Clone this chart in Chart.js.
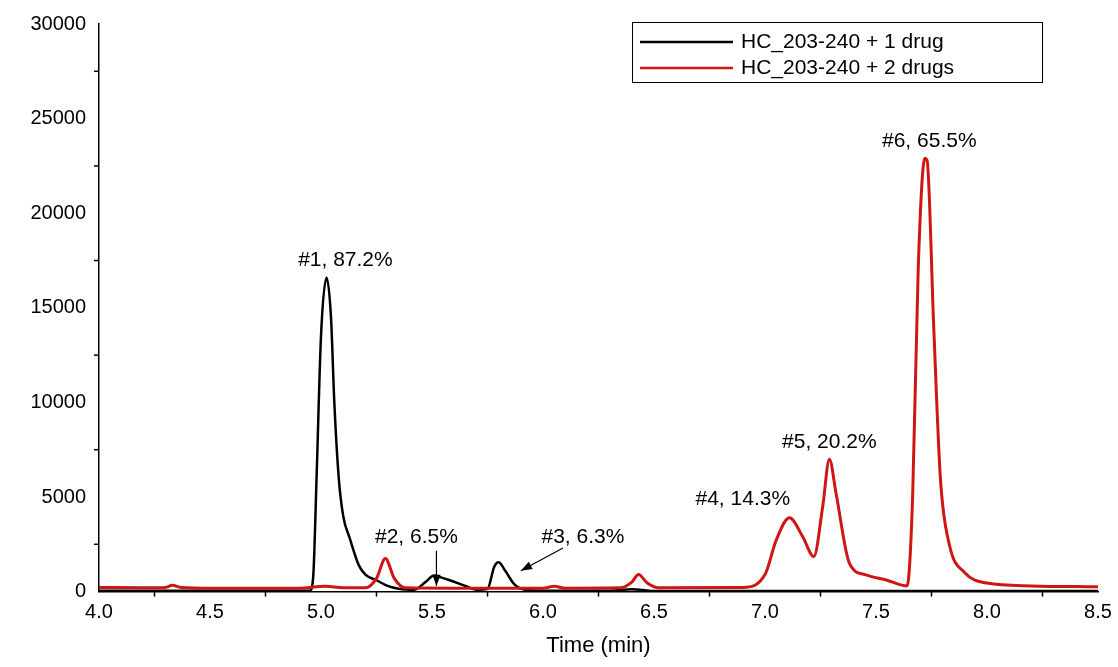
<!DOCTYPE html>
<html><head><meta charset="utf-8">
<script src="https://cdn.jsdelivr.net/npm/chart.js@4/dist/chart.umd.min.js"></script>
<style>html,body{margin:0;background:#fff}#w{width:1118px;height:667px}</style>
</head><body><div id="w"><canvas id="c"></canvas></div>
<script>
const seriesNames = ["HC_203-240 + 1 drug", "HC_203-240 + 2 drugs"];
const blackX = [4.0,4.95,4.965,4.98,5.0,5.025,5.045,5.06,5.08,5.10,5.13,5.17,5.2,5.25,5.3,5.35,5.42,5.47,5.51,5.54,5.58,5.65,5.7,5.75,5.78,5.80,5.83,5.87,5.92,6.0,6.3,6.4,6.45,6.5,8.5];
const blackY = [50,50,800,6000,13500,16600,14500,10000,6000,4000,2800,1400,900,600,300,150,100,500,850,750,600,300,100,150,1300,1550,1100,400,100,50,50,120,80,30,30];
const redX = [4.0,4.2,4.3,4.33,4.37,4.5,4.9,5.02,5.1,5.2,5.25,5.29,5.33,5.38,5.6,6.0,6.05,6.1,6.35,6.4,6.43,6.47,6.52,6.9,7.0,7.05,7.11,7.17,7.22,7.26,7.29,7.32,7.38,7.45,7.55,7.64,7.665,7.69,7.72,7.73,7.76,7.79,7.83,7.9,8.0,8.2,8.5];
const redY = [220,200,220,330,220,180,180,280,200,200,700,1750,700,200,180,180,280,180,200,500,900,450,200,220,900,2700,3900,2900,1850,4500,7000,5200,1500,900,600,300,5000,17000,22900,22800,14000,6000,2500,1000,450,300,250];
const xTicks = [4.0,4.5,5.0,5.5,6.0,6.5,7.0,7.5,8.0,8.5];
const yTicks = [0,5000,10000,15000,20000,25000,30000];
const labels = [
 {t:"#1, 87.2%", x:5.11, y:17500},
 {t:"#2, 6.5%", x:5.43, y:2900},
 {t:"#3, 6.3%", x:6.18, y:2900},
 {t:"#4, 14.3%", x:6.9, y:4900},
 {t:"#5, 20.2%", x:7.29, y:7900},
 {t:"#6, 65.5%", x:7.74, y:23800}
];
const arrows = [
 {x1:5.52,y1:2160,x2:5.52,y2:300},
 {x1:6.09,y1:2300,x2:5.9,y2:1100}
];
const F = "'Liberation Sans', Arial, sans-serif";
const pts = (xs,ys)=>xs.map((x,i)=>({x, y:ys[i]}));
const deco = {
 id:'deco',
 afterDatasetsDraw(ch){
  const c=ch.ctx, xs=ch.scales.x, ys=ch.scales.y;
  c.save();
  c.fillStyle='#000'; c.font='21px '+F; c.textAlign='center'; c.textBaseline='middle';
  labels.forEach(l=>c.fillText(l.t, xs.getPixelForValue(l.x), ys.getPixelForValue(l.y)));
  c.strokeStyle='#000'; c.lineWidth=1.2;
  arrows.forEach(a=>{
   const x1=xs.getPixelForValue(a.x1),y1=ys.getPixelForValue(a.y1),x2=xs.getPixelForValue(a.x2),y2=ys.getPixelForValue(a.y2);
   c.beginPath();c.moveTo(x1,y1);c.lineTo(x2,y2);c.stroke();
   const ang=Math.atan2(y2-y1,x2-x1),L=12,W=0.35;
   c.beginPath();c.moveTo(x2,y2);
   c.lineTo(x2-L*Math.cos(ang-W),y2-L*Math.sin(ang-W));
   c.lineTo(x2-L*Math.cos(ang+W),y2-L*Math.sin(ang+W));c.closePath();c.fill();
  });
  c.lineWidth=1.5;
  for(let v=2500; v<30000; v+=5000){const p=ys.getPixelForValue(v);c.beginPath();c.moveTo(xs.left,p);c.lineTo(xs.left-5,p);c.stroke();}
  for(let v=4.25; v<8.5; v+=0.5){const p=xs.getPixelForValue(v);c.beginPath();c.moveTo(p,ys.bottom);c.lineTo(p,ys.bottom+5);c.stroke();}
  c.fillStyle='#fff'; c.fillRect(632,22,410,60);
  c.strokeStyle='#000'; c.lineWidth=1; c.strokeRect(632.5,22.5,410,60);
  c.font='21px '+F; c.textAlign='left'; c.fillStyle='#000';
  [['#000',seriesNames[0],42],['#d01515',seriesNames[1],68]].forEach(([col,t,y])=>{
   c.strokeStyle=col;c.lineWidth=2.5;c.beginPath();c.moveTo(640,y);c.lineTo(733,y);c.stroke();
   c.fillText(t,741,y);
  });
  c.restore();
 }
};
new Chart(document.getElementById('c'),{
 type:'line',
 data:{datasets:[
  {label:seriesNames[1],data:pts(redX,redY),borderColor:'#d01515',borderWidth:3,pointRadius:0,cubicInterpolationMode:'monotone'},
  {label:seriesNames[0],data:pts(blackX,blackY),borderColor:'#000',borderWidth:2.5,pointRadius:0,cubicInterpolationMode:'monotone'}
 ]},
 plugins:[deco],
 options:{
  responsive:true,maintainAspectRatio:false,animation:false,
  layout:{padding:{left:0,right:20,top:24,bottom:8}},
  plugins:{legend:{display:false},tooltip:{enabled:false}},
  scales:{
   x:{type:'linear',min:4,max:8.5,afterBuildTicks:s=>{s.ticks=xTicks.map(v=>({value:v}))},
      grid:{display:false,drawTicks:true,tickLength:9,tickColor:'#000',tickWidth:1.5},
      border:{color:'#000',width:1.5},
      ticks:{color:'#000',font:{size:20,family:F},padding:0,maxRotation:0,callback:v=>v.toFixed(1)},
      title:{display:true,text:'Time (min)',color:'#000',font:{size:22,family:F},padding:{top:8,bottom:0}}},
   y:{min:0,max:30000,afterBuildTicks:s=>{s.ticks=yTicks.map(v=>({value:v}))},
      afterFit:s=>{s.width=99},
      grid:{display:false,tickLength:9,tickColor:'#000',tickWidth:1.5},
      border:{color:'#000',width:1.5},
      ticks:{color:'#000',font:{size:20,family:F},padding:4,callback:v=>String(v)}}
  }
 }
});
</script></body></html>
